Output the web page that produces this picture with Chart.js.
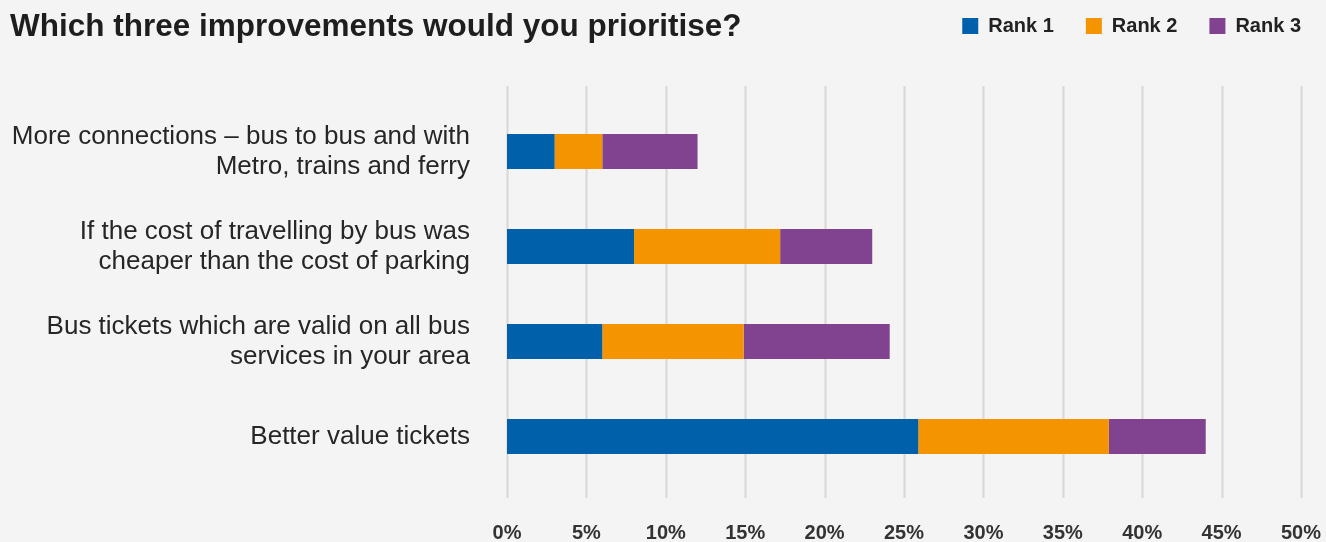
<!DOCTYPE html>
<html lang="en">
<head>
  <meta charset="UTF-8" />
  <title>Which three improvements would you prioritise?</title>
  <script src="https://cdn.jsdelivr.net/npm/chart.js"></script>
  <style>
    html, body { margin: 0; padding: 0; background: #f4f4f4; }
    .wrap { position: relative; width: 1326px; height: 542px; overflow: hidden; }
    /* canvas sits 16px high so the legend row lines up with the title */
    #chart { position: absolute; left: 0; top: -16px; }
    h1 {
      position: absolute; left: 10px; top: 10px; margin: 0;
      font: bold 31.5px/1 "Liberation Sans", Arial, sans-serif; color: #1e1e1e;
    }
  </style>
</head>
<body>
  <div class="wrap">
    <canvas id="chart" width="1326" height="558"></canvas>
    <h1>Which three improvements would you prioritise?</h1>
  </div>

  <script>
    // categories, top to bottom
    const categories = [
      ["More connections \u2013 bus to bus and with", "Metro, trains and ferry"],
      ["If the cost of travelling by bus was", "cheaper than the cost of parking"],
      ["Bus tickets which are valid on all bus", "services in your area"],
      ["Better value tickets"]
    ];
    const rank1 = [3, 8, 6, 25.9];
    const rank2 = [3, 9.2, 8.9, 12];
    const rank3 = [6, 5.8, 9.2, 6.1];
    const xTicks = [0, 5, 10, 15, 20, 25, 30, 35, 40, 45, 50];

    const font = "'Liberation Sans', Arial, sans-serif";

    // vertical grid lines run a bit past the category band
    const gridPlugin = {
      id: "longGrid",
      beforeDatasetsDraw(chart) {
        const { ctx, chartArea, scales } = chart;
        ctx.save();
        ctx.strokeStyle = "#d9d6d3";
        ctx.lineWidth = 2;
        xTicks.forEach(t => {
          const x = Math.round(scales.x.getPixelForValue(t)) + 0.5;
          ctx.beginPath();
          ctx.moveTo(x, chartArea.top - 18);
          ctx.lineTo(x, chartArea.bottom + 14);
          ctx.stroke();
        });
        ctx.restore();
      }
    };

    // keep the legend on the title row instead of right above the bars
    const legendTop = {
      id: "legendTop",
      afterLayout(chart) {
        const lg = chart.legend;
        if (!lg) return;
        const h = lg.bottom - lg.top;
        lg.top = 0;
        lg.bottom = h;
      }
    };

    new Chart(document.getElementById("chart"), {
      type: "bar",
      data: {
        labels: categories,
        datasets: [
          { label: "Rank 1", data: rank1, backgroundColor: "#0061aa" },
          { label: "Rank 2", data: rank2, backgroundColor: "#f39400" },
          { label: "Rank 3", data: rank3, backgroundColor: "#81438f" }
        ]
      },
      options: {
        indexAxis: "y",
        responsive: false,
        animation: false,
        layout: { padding: { top: 0, right: -7, left: 0, bottom: 0 } },
        datasets: { bar: { categoryPercentage: 1, barPercentage: 0.37 } },
        plugins: {
          legend: {
            position: "top",
            align: "end",
            labels: {
              boxWidth: 16, boxHeight: 16, padding: 32,
              color: "#222", font: { family: font, size: 20, weight: "bold" }
            }
          },
          tooltip: { enabled: false }
        },
        scales: {
          x: {
            stacked: true, min: 0, max: 50,
            border: { display: false },
            grid: { display: false, drawTicks: false },
            afterBuildTicks(axis) { axis.ticks = xTicks.map(v => ({ value: v })); },
            afterFit(axis) {
              axis.height = 58;
              axis.paddingLeft = 0;
              axis.paddingRight = 25;
            },
            ticks: {
              padding: 37, color: "#333",
              font: { family: font, size: 20, weight: "bold" },
              callback: v => v + "%"
            }
          },
          y: {
            stacked: true,
            border: { display: false },
            grid: { display: false, drawTicks: false },
            afterFit(axis) {
              axis.width = 507;
              axis.paddingTop = 120;
              axis.paddingBottom = 0;
            },
            ticks: {
              padding: 37, color: "#262626",
              font: { family: font, size: 26, lineHeight: 1.165 }
            }
          }
        }
      },
      plugins: [gridPlugin, legendTop]
    });
  </script>
</body>
</html>
